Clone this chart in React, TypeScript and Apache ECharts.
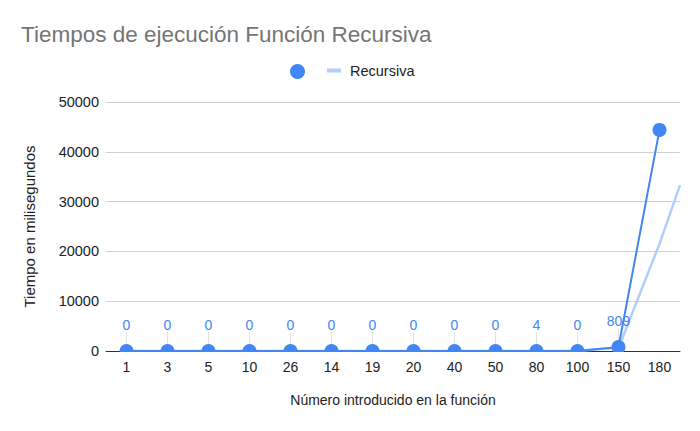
import React, { useEffect, useRef } from "react";
import * as echarts from "echarts";

const categories = ["1", "3", "5", "10", "26", "14", "19", "20", "40", "50", "80", "100", "150", "180"];
const tiempos = [0, 0, 0, 0, 0, 0, 0, 0, 0, 0, 4, 0, 809, 44400];
// trendline: [category position, value]
const trendPoints: [number, number][] = [
  [0, 0], [1, 0], [2, 0], [3, 0], [4, 0], [5, 0], [6, 0], [7, 0], [8, 0], [9, 0],
  [10, 0], [11, 60], [12, 600], [13, 21500], [13.5, 33300],
];
const yTicks = { min: 0, max: 50000, interval: 10000 };
const title = "Tiempos de ejecución Función Recursiva";
const yName = "Tiempo en milisegundos";
const xName = "Número introducido en la función";
const trendName = "Recursiva";
const mainName = "Tiempo";

const BLUE = "#4285f4";
const LIGHT = "#b3cefa";
const FONT = "'Liberation Sans', Arial, sans-serif";

export default function App() {
  const ref = useRef<HTMLDivElement>(null);
  useEffect(() => {
    document.body.style.margin = "0";
    if (!ref.current) return;
    const chart = echarts.init(ref.current, undefined, { renderer: "svg" });
    const lastIdx = tiempos.length - 1;
    chart.setOption({
      animation: false,
      textStyle: { fontFamily: FONT },
      title: {
        text: title,
        left: 21,
        top: 23,
        padding: 0,
        textStyle: { color: "#757575", fontSize: 22.5, fontWeight: "normal", fontFamily: FONT },
      },
      legend: [
        {
          data: [{ name: mainName, icon: "circle" }],
          left: 290,
          top: 64,
          padding: 0,
          itemWidth: 15,
          itemHeight: 15,
          itemGap: 0,
          formatter: () => "",
          selectedMode: false,
        },
        {
          data: [{ name: trendName, icon: "rect" }],
          left: 327,
          top: 63,
          padding: 0,
          itemWidth: 14,
          itemHeight: 4,
          textStyle: { color: "#222", fontSize: 14.5, fontFamily: FONT, padding: [0, 0, 0, 4] },
          selectedMode: false,
        },
      ],
      grid: { left: 106, right: 20, top: 102, bottom: 80 },
      xAxis: [
        {
          type: "category",
          data: categories,
          boundaryGap: true,
          axisLine: { lineStyle: { color: "#333", width: 1 } },
          axisTick: { show: false },
          axisLabel: { color: "#222", fontSize: 14, margin: 9, fontFamily: FONT },
          name: xName,
          nameLocation: "middle",
          nameGap: 42,
          nameTextStyle: { color: "#222", fontSize: 14, fontFamily: FONT },
        },
        {
          type: "value",
          min: -0.5,
          max: 13.5,
          show: false,
        },
      ],
      yAxis: {
        type: "value",
        min: yTicks.min,
        max: yTicks.max,
        interval: yTicks.interval,
        axisLine: { show: false },
        axisTick: { show: false },
        splitLine: { lineStyle: { color: "#d0d0d0" } },
        axisLabel: {
          color: "#222",
          fontSize: 14.5,
          margin: 7,
          fontFamily: FONT,
          formatter: (v: number) => String(v),
        },
        name: yName,
        nameLocation: "middle",
        nameGap: 69,
        nameTextStyle: { color: "#222", fontSize: 15, fontFamily: FONT },
      },
      series: [
        {
          name: trendName,
          type: "line",
          xAxisIndex: 1,
          data: trendPoints,
          symbol: "none",
          lineStyle: { color: LIGHT, width: 2.5 },
          itemStyle: { color: LIGHT },
          clip: true,
          z: 1,
        },
        {
          name: mainName,
          type: "line",
          xAxisIndex: 0,
          data: tiempos.map((v, i) => (i === lastIdx ? { value: v, label: { show: false } } : v)),
          symbol: "circle",
          symbolSize: 14,
          showAllSymbol: true,
          lineStyle: { color: BLUE, width: 2 },
          itemStyle: { color: BLUE },
          label: {
            show: true,
            position: "top",
            distance: 6,
            color: BLUE,
            fontSize: 14,
            fontFamily: FONT,
          },
          labelLayout: { dy: -6 },
          labelLine: { show: true, lineStyle: { color: "#e3e3e3", width: 1 } },
          z: 2,
        },
      ],
      graphic: [
        {
          type: "rect",
          shape: { x: 100, y: 352, width: 600, height: 8 },
          style: { fill: "#fff" },
          z: 100,
        },
      ],
    });
    return () => chart.dispose();
  }, []);
  return <div ref={ref} style={{ width: 700, height: 431 }} />;
}
